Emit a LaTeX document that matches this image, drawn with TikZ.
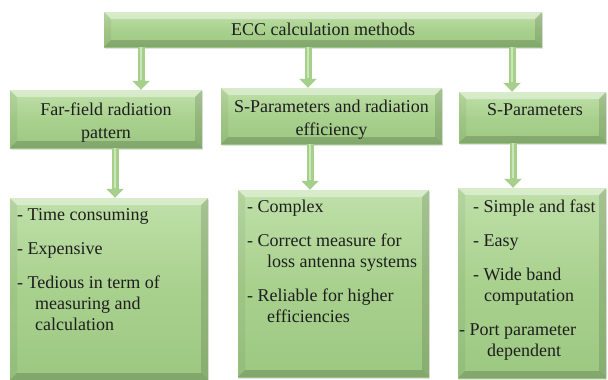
\documentclass[tikz,border=0pt]{standalone}
\usepackage{fontspec}
\setmainfont{Liberation Serif}
\usetikzlibrary{arrows.meta,shadows,calc}
\definecolor{gtop}{HTML}{BFE0A9}
\definecolor{gmid}{HTML}{A9D18E}
\definecolor{gbot}{HTML}{9CC882}
\definecolor{arrowg}{HTML}{A6CF8B}
\definecolor{arrowl}{HTML}{CBE7B8}
\definecolor{txt}{HTML}{1E1E1E}
\tikzset{
  bevbox/.style={draw=none, inner sep=0pt, rectangle,
    top color=gtop, bottom color=gbot, middle color=gmid,
    drop shadow={shadow xshift=0.5pt, shadow yshift=-2pt, opacity=.22},
    path picture={
      \def\bw{7pt}
      \fill[white,opacity=.40] (path picture bounding box.north west) -- (path picture bounding box.north east)
        -- ([xshift=-\bw,yshift=-\bw]path picture bounding box.north east)
        -- ([xshift=\bw,yshift=-\bw]path picture bounding box.north west) -- cycle;
      \fill[black,opacity=.05] (path picture bounding box.north west) -- (path picture bounding box.south west)
        -- ([xshift=\bw,yshift=\bw]path picture bounding box.south west)
        -- ([xshift=\bw,yshift=-\bw]path picture bounding box.north west) -- cycle;
      \fill[black,opacity=.13] (path picture bounding box.north east) -- (path picture bounding box.south east)
        -- ([xshift=-\bw,yshift=\bw]path picture bounding box.south east)
        -- ([xshift=-\bw,yshift=-\bw]path picture bounding box.north east) -- cycle;
      \fill[black,opacity=.16] (path picture bounding box.south west) -- (path picture bounding box.south east)
        -- ([xshift=-\bw,yshift=\bw]path picture bounding box.south east)
        -- ([xshift=\bw,yshift=\bw]path picture bounding box.south west) -- cycle;
    }},
  fatarr/.style={line width=7pt, draw=arrowg, -{Triangle[width=17pt,length=9pt]}},
  shaftlight/.style={line width=2.5pt, draw=arrowl},
  headtxt/.style={text=txt, font=\fontsize{18}{23}\selectfont, align=center, inner sep=0pt, anchor=base},
  listtxt/.style={text=txt, font=\fontsize{18}{21}\selectfont, align=left, inner sep=0pt, anchor=base west},
}
\begin{document}
\begin{tikzpicture}[x=1pt,y=-1pt]
\useasboundingbox (0,0) rectangle (608,380);
% boxes
\node[bevbox, minimum width=438pt, minimum height=35pt] (top) at (323,29.5) {};
\node[bevbox, minimum width=192pt, minimum height=58pt] (u1) at (106,119) {};
\node[bevbox, minimum width=221pt, minimum height=56pt] (u2) at (331.5,116) {};
\node[bevbox, minimum width=147pt, minimum height=51pt] (u3) at (532.5,117.5) {};
\node[bevbox, minimum width=198pt, minimum height=182pt] (l1) at (109,289) {};
\node[bevbox, minimum width=191pt, minimum height=187pt] (l2) at (333.5,283.5) {};
\node[bevbox, minimum width=148pt, minimum height=190pt] (l3) at (532,283) {};
% arrows
\foreach \s/\t/\x in {top/u1/141, top/u2/308, top/u3/512, u1/l1/115, u2/l2/310, u3/l3/513}{
  \draw[fatarr] (\s.south -| \x,0) -- (\t.north -| \x,0);
  \draw[shaftlight] (\s.south -| \x,0) -- ([yshift=10pt]\t.north -| \x,0);
}
% texts (base anchor = baseline of the last line)
\node[headtxt] (ttop) at (323,35) {ECC calculation methods};
\node[headtxt] (tu1) at (106,138) {Far-field radiation\\pattern};
\node[headtxt] (tu2) at (331.5,135) {S-Parameters and radiation\\efficiency};
\node[headtxt] (tu3) at (535,115) {S-Parameters};
\node[listtxt] (tl1) at (17,330) {- Time consuming\\[13pt]- Expensive\\[13pt]- Tedious in term of\\\hspace*{18pt}measuring and\\\hspace*{18pt}calculation};
\node[listtxt] (tl2) at (247,322) {- Complex\\[13pt]- Correct measure for\\\hspace*{20pt}loss antenna systems\\[13pt]- Reliable for higher\\\hspace*{20pt}efficiencies};
\node[listtxt] (tl3) at (459,356) {\hspace*{14pt}- Simple and fast\\[13pt]\hspace*{14pt}- Easy\\[13pt]\hspace*{14pt}- Wide band\\\hspace*{25pt}computation\\[13pt]- Port parameter\\\hspace*{28pt}dependent};
\end{tikzpicture}
\end{document}
